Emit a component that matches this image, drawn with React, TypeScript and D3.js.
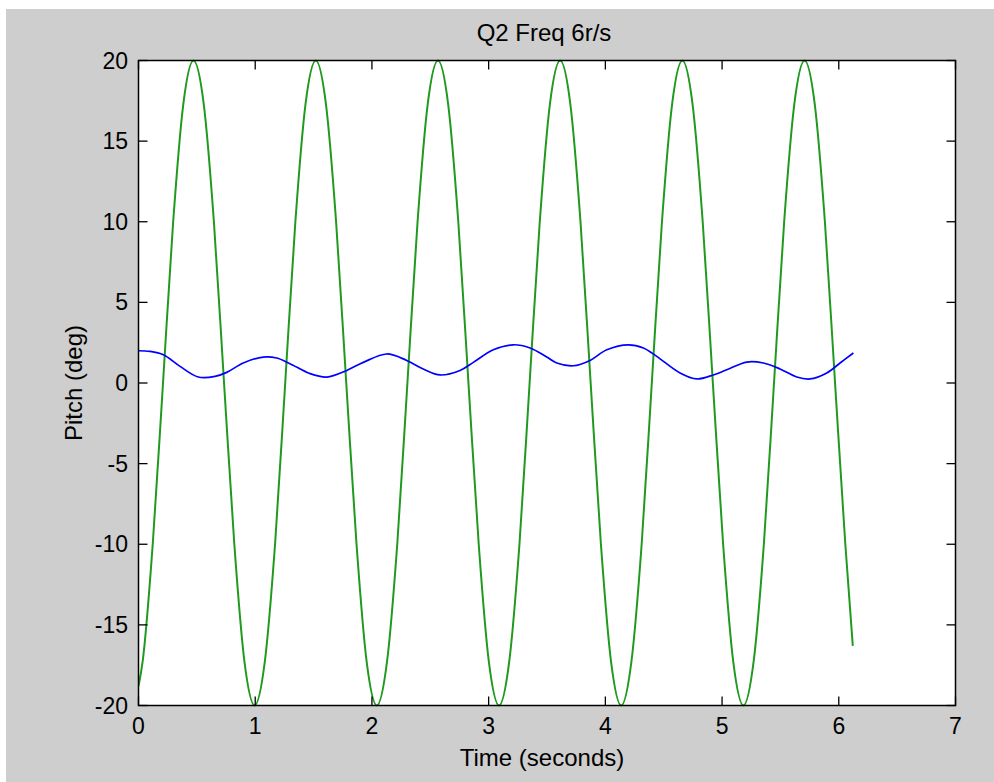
import React from "react";
import * as d3 from "d3";

const title = "Q2 Freq 6r/s";
const xLabel = "Time (seconds)";
const yLabel = "Pitch (deg)";
const xTicks = [0, 1, 2, 3, 4, 5, 6, 7];
const yTicks = [-20, -15, -10, -5, 0, 5, 10, 15, 20];

// Green series (input)
const greenT = [
  0, 0.035, 0.122, 0.21, 0.297, 0.384, 0.471, 0.559, 0.646, 0.733, 0.821, 0.908,
  0.995, 1.082, 1.17, 1.257, 1.344, 1.431, 1.519, 1.606, 1.693, 1.78, 1.868, 1.955,
  2.042, 2.129, 2.217, 2.304, 2.391, 2.478, 2.566, 2.653, 2.74, 2.827, 2.915, 3.002,
  3.089, 3.176, 3.264, 3.351, 3.438, 3.525, 3.613, 3.7, 3.787, 3.874, 3.962, 4.049,
  4.136, 4.223, 4.311, 4.398, 4.485, 4.572, 4.66, 4.747, 4.834, 4.921, 5.009, 5.096,
  5.183, 5.27, 5.358, 5.445, 5.532, 5.619, 5.707, 5.794, 5.881, 5.968, 6.056, 6.12,
];
const greenV = [
  -18.8, -17.3, -10, 0, 10, 17.3, 20, 17.3, 10, 0, -10, -17.3,
  -20, -17.3, -10, 0, 10, 17.3, 20, 17.3, 10, 0, -10, -17.3,
  -20, -17.3, -10, 0, 10, 17.3, 20, 17.3, 10, 0, -10, -17.3,
  -20, -17.3, -10, 0, 10, 17.3, 20, 17.3, 10, 0, -10, -17.3,
  -20, -17.3, -10, 0, 10, 17.3, 20, 17.3, 10, 0, -10, -17.3,
  -20, -17.3, -10, 0, 10, 17.3, 20, 17.3, 10, 0, -10, -16.3,
];

// Blue series (pitch response)
const blueT = [
  0, 0.099, 0.213, 0.356, 0.512, 0.656, 0.756, 0.898, 1.069, 1.184, 1.298, 1.47,
  1.613, 1.784, 1.926, 2.127, 2.298, 2.44, 2.584, 2.755, 2.869, 3.04, 3.212, 3.355,
  3.498, 3.584, 3.726, 3.869, 4.012, 4.197, 4.326, 4.44, 4.64, 4.783, 4.925, 5.04,
  5.212, 5.354, 5.497, 5.64, 5.754, 5.897, 6.011, 6.125,
];
const blueV = [
  2.0, 1.96, 1.75, 1.03, 0.37, 0.41, 0.66, 1.24, 1.61, 1.55, 1.2, 0.58,
  0.37, 0.78, 1.28, 1.8, 1.4, 0.87, 0.5, 0.78, 1.28, 2.06, 2.37, 2.17,
  1.61, 1.24, 1.07, 1.4, 2.06, 2.37, 2.17, 1.65, 0.62, 0.25, 0.5, 0.82,
  1.3, 1.24, 0.87, 0.37, 0.25, 0.62, 1.24, 1.86,
];

export default function App() {
  const W = 994, H = 782;
  const L = 138.5, R = 955.5, T = 60.5, B = 705.5;
  const x = d3.scaleLinear().domain([0, 7]).range([L, R]);
  const y = d3.scaleLinear().domain([-20, 20]).range([B, T]);
  const font = "'Liberation Sans', Arial, sans-serif";
  const tickLen = 9;

  const greenLine = d3
    .line<[number, number]>()
    .x((d) => x(d[0]))
    .y((d) => y(d[1]))
    .curve(d3.curveMonotoneX);
  const blueLine = d3
    .line<[number, number]>()
    .x((d) => x(d[0]))
    .y((d) => y(d[1]))
    .curve(d3.curveCatmullRom.alpha(0.5));

  const green = greenLine(greenT.map((t, i) => [t, greenV[i]] as [number, number])) || "";
  const blue = blueLine(blueT.map((t, i) => [t, blueV[i]] as [number, number])) || "";

  return (
    <svg
      width={W}
      height={H}
      style={{ position: "absolute", left: 0, top: 0, display: "block" }}
    >
      <rect x={0} y={0} width={W} height={H} fill="#ffffff" />
      <rect x={6} y={9} width={W - 6} height={H - 9} fill="#cecece" />
      <rect x={L} y={T} width={R - L} height={B - T} fill="#ffffff" />
      <defs>
        <clipPath id="plotclip">
          <rect x={L} y={T - 2} width={R - L} height={B - T + 4} />
        </clipPath>
      </defs>
      <g clipPath="url(#plotclip)">
        <path d={green} fill="none" stroke="#1f9a1f" strokeWidth={2} />
        <path d={blue} fill="none" stroke="#0000ff" strokeWidth={1.7} />
      </g>
      {/* ticks */}
      <g stroke="#000" strokeWidth={1.3}>
        {xTicks.map((t) => (
          <g key={"xt" + t}>
            <line x1={x(t)} x2={x(t)} y1={B} y2={B - tickLen} />
            <line x1={x(t)} x2={x(t)} y1={T} y2={T + tickLen} />
          </g>
        ))}
        {yTicks.map((t) => (
          <g key={"yt" + t}>
            <line x1={L} x2={L + tickLen} y1={y(t)} y2={y(t)} />
            <line x1={R} x2={R - tickLen} y1={y(t)} y2={y(t)} />
          </g>
        ))}
      </g>
      <rect x={L} y={T} width={R - L} height={B - T} fill="none" stroke="#000" strokeWidth={1.5} />
      {/* tick labels */}
      <g fontFamily={font} fontSize={23} fill="#000">
        {xTicks.map((t) => (
          <text key={"xl" + t} x={x(t)} y={734} textAnchor="middle">
            {t}
          </text>
        ))}
        {yTicks.map((t) => (
          <text key={"yl" + t} x={128} y={y(t) + 8} textAnchor="end">
            {t}
          </text>
        ))}
      </g>
      <text x={(L + R) / 2 - 3} y={41} textAnchor="middle" fontFamily={font} fontSize={24} fill="#000">
        {title}
      </text>
      <text x={(L + R) / 2 - 5} y={766} textAnchor="middle" fontFamily={font} fontSize={24} fill="#000">
        {xLabel}
      </text>
      <text
        transform={`translate(82, ${(T + B) / 2}) rotate(-90)`}
        textAnchor="middle"
        fontFamily={font}
        fontSize={24}
        fill="#000"
      >
        {yLabel}
      </text>
    </svg>
  );
}
